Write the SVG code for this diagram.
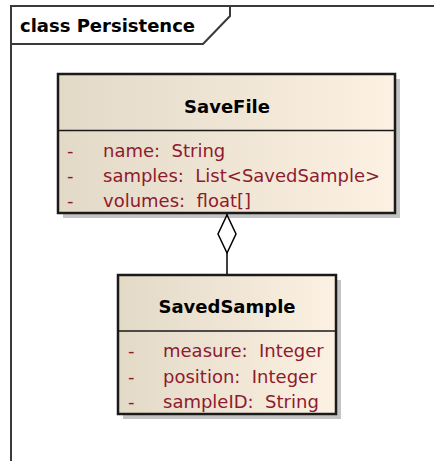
<svg xmlns="http://www.w3.org/2000/svg" width="434" height="461" viewBox="0 0 434 461">
<defs>
<linearGradient id="fillGrad" x1="0" y1="0" x2="1" y2="0">
<stop offset="0" stop-color="#E3D9C7"/>
<stop offset="1" stop-color="#FCF1E2"/>
</linearGradient>
<marker id="aggr" viewBox="0 0 40 20" refX="40" refY="10" markerWidth="40" markerHeight="20" markerUnits="userSpaceOnUse" orient="auto">
<path d="M1,10 L20,1 L39,10 L20,19 Z" fill="#ffffff" stroke="#000000" stroke-width="1.5"/>
</marker>
<style>
text{font-family:"DejaVu Sans","Liberation Sans",sans-serif;font-size:18px;white-space:pre}
.title{font-weight:bold;fill:#000000;text-anchor:middle}
.frameLabel{font-weight:bold;fill:#000000}
.attr{fill:#8E1A2E}
.frame{fill:none;stroke:#3a3a3a;stroke-width:2}
.shadow{fill:#c4c4c4}
.box{fill:url(#fillGrad);stroke:#1a1a1a;stroke-width:2.5}
.sep{stroke:#1a1a1a;stroke-width:1.5}
.conn{fill:none;stroke:#000000;stroke-width:1.5}
</style>
</defs>
<rect width="434" height="461" fill="#ffffff"/>
<g id="frame">
<path class="frame" d="M11,461 L11,6 L434,6"/>
<path class="frame" d="M11,44 L203,44 L230,16 L230,6"/>
<text class="frameLabel" x="20" y="32">class Persistence</text>
</g>
<g id="SaveFile">
<rect class="shadow" x="63" y="79" width="337" height="139"/>
<rect class="box" x="58" y="74" width="337" height="139"/>
<line class="sep" x1="58" y1="130.5" x2="395" y2="130.5"/>
<text class="title" x="227" y="113">SaveFile</text>
<text class="attr" x="67" y="157">-</text>
<text class="attr" x="103" y="157">name:  String</text>
<text class="attr" x="67" y="182">-</text>
<text class="attr" x="103" y="182">samples:  List&lt;SavedSample&gt;</text>
<text class="attr" x="67" y="207">-</text>
<text class="attr" x="103" y="207">volumes:  float[]</text>
</g>
<g id="SavedSample">
<rect class="shadow" x="123" y="280" width="218" height="139"/>
<rect class="box" x="118" y="275" width="218" height="139"/>
<line class="sep" x1="118" y1="331" x2="336" y2="331"/>
<text class="title" x="227" y="313">SavedSample</text>
<text class="attr" x="128" y="357">-</text>
<text class="attr" x="163" y="357">measure:  Integer</text>
<text class="attr" x="128" y="382.5">-</text>
<text class="attr" x="163" y="382.5">position:  Integer</text>
<text class="attr" x="128" y="408">-</text>
<text class="attr" x="163" y="408">sampleID:  String</text>
</g>
<g id="connectors">
<path class="conn" d="M227,274 L227,214" marker-end="url(#aggr)"/>
</g>
</svg>
